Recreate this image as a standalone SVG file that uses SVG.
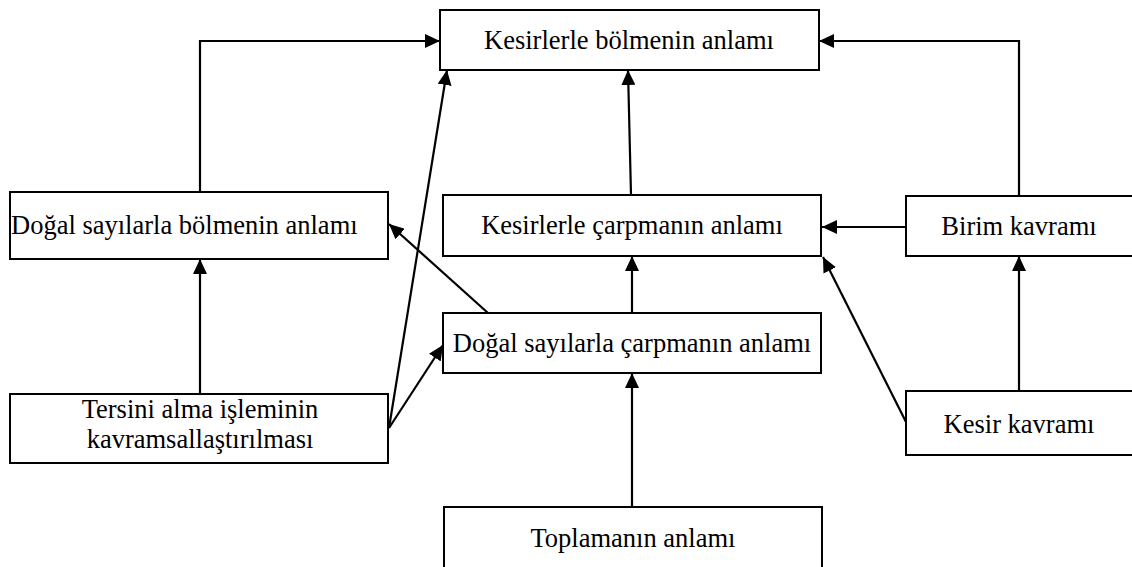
<svg xmlns="http://www.w3.org/2000/svg" width="1132" height="567" viewBox="0 0 1132 567">
  <style>
    .box { fill: #fff; stroke: #000; stroke-width: 2; }
    .lbl { font-family: 'Liberation Serif', 'Times New Roman', 'DejaVu Serif', serif; font-size: 26.5px; fill: #000; text-anchor: middle; }
    .edge { fill: none; stroke: #000; stroke-width: 2.2; marker-end: url(#arrow); }
  </style>
  <defs>
    <marker id="arrow" viewBox="0 0 15 14" refX="15" refY="7" markerWidth="15" markerHeight="14" markerUnits="userSpaceOnUse" orient="auto">
      <path d="M0,0 L15,7 L0,14 Z" fill="#000"/>
    </marker>
  </defs>
  <rect width="1132" height="567" fill="#fff"/>

  <g id="connectors">
    <polyline class="edge" points="200,192 200,41 440,41"/>
    <polyline class="edge" points="1019,196 1019,41 819,41"/>
    <line class="edge" x1="631" y1="195" x2="628" y2="70"/>
    <line class="edge" x1="389" y1="428" x2="447" y2="70"/>
    <line class="edge" x1="389" y1="428" x2="443" y2="345"/>
    <line class="edge" x1="488" y1="313" x2="389" y2="224"/>
    <line class="edge" x1="632" y1="313" x2="632" y2="256"/>
    <line class="edge" x1="632" y1="507" x2="632" y2="373"/>
    <line class="edge" x1="200" y1="394" x2="200" y2="259"/>
    <line class="edge" x1="906" y1="227" x2="822" y2="227"/>
    <line class="edge" x1="906" y1="422" x2="823" y2="257"/>
    <line class="edge" x1="1019" y1="391" x2="1019" y2="256"/>
  </g>

  <g id="n-kesir-bolme">
    <rect class="box" x="440" y="10" width="379" height="60"/>
    <text class="lbl" x="629" y="49">Kesirlerle bölmenin anlamı</text>
  </g>
  <g id="n-dogal-bolme">
    <rect class="box" x="10" y="192" width="378" height="67"/>
    <text class="lbl" x="11" y="234" style="text-anchor:start">Doğal sayılarla bölmenin anlamı</text>
  </g>
  <g id="n-kesir-carpma">
    <rect class="box" x="443" y="195" width="378" height="61"/>
    <text class="lbl" x="632" y="234">Kesirlerle çarpmanın anlamı</text>
  </g>
  <g id="n-birim">
    <rect class="box" x="906" y="196" width="230" height="60"/>
    <text class="lbl" x="1019" y="235">Birim kavramı</text>
  </g>
  <g id="n-dogal-carpma">
    <rect class="box" x="443" y="313" width="378" height="60"/>
    <text class="lbl" x="632" y="352">Doğal sayılarla çarpmanın anlamı</text>
  </g>
  <g id="n-tersini">
    <rect class="box" x="10" y="394" width="378" height="69"/>
    <text class="lbl" x="200" y="418">Tersini alma işleminin</text>
    <text class="lbl" x="200" y="448">kavramsallaştırılması</text>
  </g>
  <g id="n-kesir">
    <rect class="box" x="906" y="391" width="230" height="64"/>
    <text class="lbl" x="1019" y="433">Kesir kavramı</text>
  </g>
  <g id="n-toplama">
    <rect class="box" x="444" y="507" width="378" height="62"/>
    <text class="lbl" x="633" y="547">Toplamanın anlamı</text>
  </g>
</svg>
